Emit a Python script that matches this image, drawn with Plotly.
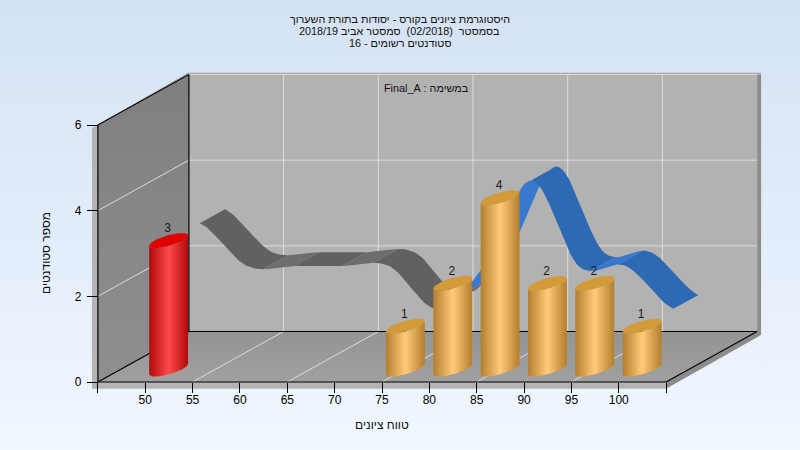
import math
import plotly.graph_objects as go

# ---- data ----
bar_bins = [50, 75, 80, 85, 90, 95, 100]
bar_counts = [3, 1, 2, 4, 2, 2, 1]
line_bins = [50, 55, 60, 65, 70, 75, 80, 85, 90, 95, 100]
line_values = [3, 2, 2, 2, 2, 1, 2, 4, 2, 2, 1]
x_ticks = [45, 50, 55, 60, 65, 70, 75, 80, 85, 90, 95, 100, 105]
x_labels = ["", "50", "55", "60", "65", "70", "75", "80", "85", "90", "95", "100", ""]
y_ticks = [0, 2, 4, 6]
title_lines = [
    "\u202bהיסטוגרמת ציונים בקורס - יסודות בתורת השערוך\u202c",
    "\u202bבסמסטר\u00a0\u00a0(02/2018)\u00a0\u00a0סמסטר אביב 2018/19\u202c",
    "\u202bסטודנטים רשומים - 16\u202c",
]
subtitle = "\u202bבמשימה : Final_A\u202c"
x_title = "טווח ציונים"
y_title = "מספר סטודנטים"

# ---- oblique projection: depth 0 = front plane, depth 1 = back wall ----
W, H = 800, 450
PX_X = 9.47      # pixels per grade unit
PX_Y = 42.83     # pixels per student
X0_PX = 97.9     # pixel of grade 45
Y0_PX = 382.0    # pixel of count 0
DX = 91.0 / PX_X
DY = 50.5 / PX_Y
XMIN, XMAX, YMAX = 45, 105, 6
FONT = "Liberation Sans"


def proj(x, v, d=0.0):
    return x + DX * d, v + DY * d


def poly(points, color=None, gradient=None):
    xs = [p[0] for p in points] + [points[0][0]]
    ys = [p[1] for p in points] + [points[0][1]]
    kw = dict(x=xs, y=ys, mode="lines", line=dict(width=0), fill="toself",
              hoverinfo="skip", showlegend=False)
    if gradient:
        kw["fillgradient"] = gradient
    else:
        kw["fillcolor"] = color
    return go.Scatter(**kw)


def seg(a, b, color, width=1.0):
    return go.Scatter(x=[a[0], b[0]], y=[a[1], b[1]], mode="lines",
                      line=dict(color=color, width=width),
                      hoverinfo="skip", showlegend=False)


x_range = [XMIN - X0_PX / PX_X, XMIN + (W - X0_PX) / PX_X]
y_range = [-(H - Y0_PX) / PX_Y, Y0_PX / PX_Y]

traces = []

# page background
traces.append(poly(
    [(x_range[0], y_range[0]), (x_range[1], y_range[0]),
     (x_range[1], y_range[1]), (x_range[0], y_range[1])],
    gradient=dict(type="vertical", colorscale=[[0, "#f0f7ff"], [1, "#d4e2f4"]])))

# frame rims
ox, oy = -0.63, -0.156
traces.append(poly([proj(XMIN + ox, oy), proj(XMAX, oy), proj(XMAX, 0), proj(XMIN, 0),
                    proj(XMIN, YMAX), proj(XMIN + ox, YMAX - 0.07)], "#b4b4b4"))
traces.append(poly([proj(XMIN + ox, YMAX - 0.07), proj(XMIN, YMAX),
                    proj(XMIN, YMAX, 1), proj(XMAX, YMAX, 1),
                    proj(XMAX + 0.42, YMAX, 1), proj(XMAX + 0.42, YMAX + 0.04, 1),
                    proj(XMIN - 0.1, YMAX + 0.04, 1)], "#a8a8a8"))
traces.append(poly([proj(XMAX, oy), proj(XMAX + 0.42, -0.08, 1),
                    proj(XMAX + 0.42, YMAX, 1), proj(XMAX, YMAX, 1), proj(XMAX, 0, 1),
                    proj(XMAX, 0)], "#8c8c8c"))

# walls
traces.append(poly([proj(XMIN, 0, 1), proj(XMAX, 0, 1), proj(XMAX, YMAX, 1), proj(XMIN, YMAX, 1)],
                   "#b2b2b2"))
traces.append(poly([proj(XMIN, 0, 0), proj(XMIN, 0, 1), proj(XMIN, YMAX, 1), proj(XMIN, YMAX, 0)],
                   gradient=dict(type="vertical", colorscale=[[0, "#8f8f8f"], [1, "#7f7f7f"]])))
traces.append(poly([proj(XMIN, 0, 0), proj(XMAX, 0, 0), proj(XMAX, 0, 1), proj(XMIN, 0, 1)],
                   gradient=dict(type="vertical", colorscale=[[0, "#a0a0a0"], [1, "#949494"]])))

# grid
GRID = "#dcdcdc"
for gx in range(55, 105, 10):
    traces.append(seg(proj(gx, 0, 0), proj(gx, 0, 1), GRID))
    traces.append(seg(proj(gx, 0, 1), proj(gx, YMAX, 1), GRID))
for gy in y_ticks[1:]:
    traces.append(seg(proj(XMIN, gy, 0), proj(XMIN, gy, 1), GRID))
    traces.append(seg(proj(XMIN, gy, 1), proj(XMAX, gy, 1), GRID))

# black frame lines
for a, b in [
    (proj(XMIN, 0, 0), proj(XMAX, 0, 0)),
    (proj(XMIN, 0, 0), proj(XMIN, YMAX, 0)),
    (proj(XMIN, 0, 0), proj(XMIN, 0, 1)),
    (proj(XMIN, YMAX, 0), proj(XMIN, YMAX, 1)),
    (proj(XMIN, 0, 1), proj(XMIN, YMAX, 1)),
    (proj(XMIN, 0, 1), proj(XMAX, 0, 1)),
    (proj(XMAX, 0, 0), proj(XMAX, 0, 1)),
]:
    traces.append(seg(a, b, "#000000", 1.2))

# ribbon (smoothed line, at the back of the box)
RIB_FRONT, RIB_BACK = 0.60, 0.875
TENSION = 0.5
SPLIT_X = 77.5
STEPS = 24


def smooth(xs, ys):
    out = []
    n = len(xs)
    for i in range(n - 1):
        p0y = ys[max(i - 1, 0)]
        p1y = ys[i]
        p2y = ys[i + 1]
        p3y = ys[min(i + 2, n - 1)]
        m1 = TENSION * (p2y - p0y)
        m2 = TENSION * (p3y - p1y)
        for s in range(STEPS):
            t = s / STEPS
            h00 = 2 * t**3 - 3 * t**2 + 1
            h10 = t**3 - 2 * t**2 + t
            h01 = -2 * t**3 + 3 * t**2
            h11 = t**3 - t**2
            out.append((xs[i] + (xs[i + 1] - xs[i]) * t,
                        h00 * p1y + h10 * m1 + h01 * p2y + h11 * m2))
    out.append((xs[-1], ys[-1]))
    return out


curve = smooth(line_bins, line_values)


def rib_color(x, rising):
    if x < SPLIT_X:
        return "#6d6d6d" if rising else "#616161"
    return "#3878cf" if rising else "#2e69b4"


runs = []
for (xa, va), (xb, vb) in zip(curve[:-1], curve[1:]):
    col = rib_color(xa, vb > va + 1e-6)
    if runs and runs[-1][0] == col:
        runs[-1][1].append((xb, vb))
    else:
        runs.append((col, [(xa, va), (xb, vb)]))
for col, pts in runs:
    front = [proj(x, v, RIB_FRONT) for x, v in pts]
    back = [proj(x, v, RIB_BACK) for x, v in reversed(pts)]
    traces.append(poly(front + back, col))

# cylinders
BAR_DEPTH = 0.257
BAR_HALF_X = 1.48
BAR_HALF_D = 0.148
A = BAR_HALF_X
B = BAR_HALF_D * DX
TS = math.atan2(B, A)
ARC = 40


def ellipse_point(x, v, t):
    return proj(x + BAR_HALF_X * math.cos(t), v, BAR_DEPTH + BAR_HALF_D * math.sin(t))


def cylinder(x, v, edge, mid, top):
    lower = [ellipse_point(x, 0, TS - math.pi * i / ARC) for i in range(ARC + 1)]
    upper = [ellipse_point(x, v, TS - math.pi + math.pi * i / ARC) for i in range(ARC + 1)]
    side = poly(lower + upper, gradient=dict(
        type="horizontal",
        colorscale=[[0, edge], [0.5, mid], [1, edge]]))
    cap = poly([ellipse_point(x, v, 2 * math.pi * i / (2 * ARC)) for i in range(2 * ARC)], top)
    return [side, cap]


for bx, bv in zip(bar_bins, bar_counts):
    if bx == 50:
        traces += cylinder(bx, bv, "#b00a0a", "#ff4a4a", "#e00000")
    else:
        traces += cylinder(bx, bv, "#b37f2e", "#ffcb7a", "#d39a38")

# value labels
LABEL_DROP = 2 / PX_Y
traces.append(go.Scatter(
    x=[proj(bx, bv, BAR_DEPTH)[0] - 0.1 for bx, bv in zip(bar_bins, bar_counts)],
    y=[proj(bx, bv, BAR_DEPTH + BAR_HALF_D)[1] - LABEL_DROP for bx, bv in zip(bar_bins, bar_counts)],
    mode="text", text=[str(c) for c in bar_counts], textposition="top center",
    textfont=dict(family=FONT, size=12, color="#1a1a1a"),
    hoverinfo="skip", showlegend=False))


def note(text, px, py, size=10.8, angle=0):
    return dict(text=text, x=px / W, y=1 - py / H, xref="paper", yref="paper",
                xanchor="center", yanchor="middle", showarrow=False, textangle=angle,
                font=dict(family=FONT, size=size, color="#111111"))


annotations = [
    note(title_lines[1], 399, 31),
    note(title_lines[2], 400, 43),
    note(subtitle, 427, 88),
    note(x_title, 382, 425, size=12),
    note(y_title, 46, 253, size=12, angle=-90),
]

fig = go.Figure(traces)
fig.update_layout(
    width=W, height=H, margin=dict(l=0, r=0, t=0, b=0),
    paper_bgcolor="#e4edf9", plot_bgcolor="rgba(0,0,0,0)",
    showlegend=False, annotations=annotations,
    title=dict(text=title_lines[0], x=0.5, xanchor="center", xref="paper",
               y=1 - 19 / H, yanchor="middle", yref="container",
               font=dict(family=FONT, size=10.8, color="#111111")),
    xaxis=dict(range=x_range, domain=[0, 1], anchor="free",
               position=(H - Y0_PX) / H, showgrid=False, zeroline=False, showline=False,
               tickmode="array", tickvals=x_ticks, ticktext=x_labels,
               ticks="outside", ticklen=10, tickwidth=1.2, tickcolor="#000000",
               ticklabelstandoff=-3,
               tickfont=dict(family=FONT, size=12, color="#000000")),
    yaxis=dict(range=y_range, domain=[0, 1], anchor="free",
               position=X0_PX / W, showgrid=False, zeroline=False, showline=False,
               tickmode="array", tickvals=y_ticks,
               ticks="outside", ticklen=11, tickwidth=1.2, tickcolor="#000000",
               ticklabelstandoff=3,
               tickfont=dict(family=FONT, size=12, color="#000000")),
)
fig.write_html("out.html", config={"displayModeBar": False},
               post_script="document.body.style.margin='0';document.body.style.overflow='hidden';")
